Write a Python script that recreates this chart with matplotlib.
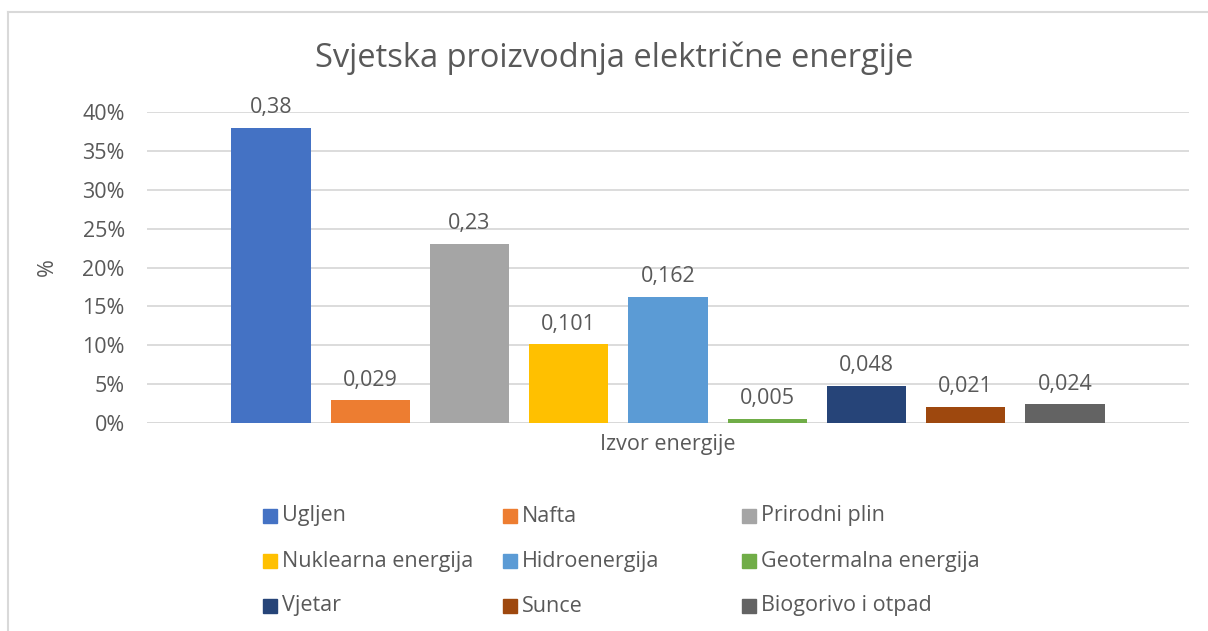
import matplotlib.pyplot as plt
from matplotlib.patches import Rectangle
from matplotlib.lines import Line2D
from matplotlib.ticker import FuncFormatter

plt.rcParams['font.family'] = ['Open Sans', 'DejaVu Sans']

izvori = ["Ugljen", "Nafta", "Prirodni plin", "Nuklearna energija", "Hidroenergija",
          "Geotermalna energija", "Vjetar", "Sunce", "Biogorivo i otpad"]
udjeli = [0.38, 0.029, 0.23, 0.101, 0.162, 0.005, 0.048, 0.021, 0.024]
oznake = ["0,38", "0,029", "0,23", "0,101", "0,162", "0,005", "0,048", "0,021", "0,024"]
boje = ["#4472C4", "#ED7D31", "#A5A5A5", "#FFC000", "#5B9BD5",
        "#70AD47", "#264478", "#9E480E", "#636363"]
y_ticks = [0, 0.05, 0.10, 0.15, 0.20, 0.25, 0.30, 0.35, 0.40]

txt = "#595959"
grid = "#D9D9D9"
fs = 15.5
W, H = 1208, 631

fig = plt.figure(figsize=(W / 100, H / 100), dpi=100)
ax = fig.add_axes([147 / W, 1 - 423 / H, (1189 - 147) / W, (423 - 112) / H])

x = list(range(len(izvori)))
bars = ax.bar(x, udjeli, width=0.8, color=boje, zorder=3)
for b, lab in zip(bars, oznake):
    ax.annotate(lab, (b.get_x() + b.get_width() / 2, b.get_height()),
                xytext=(0, 7), textcoords="offset points",
                ha="center", va="bottom", fontsize=fs, color=txt)

ax.set_xlim(-1.25, 9.25)
ax.set_ylim(0, 0.40)
ax.set_yticks(y_ticks)
ax.yaxis.set_major_formatter(FuncFormatter(lambda v, p: f"{v * 100:.0f}%"))
ax.set_xticks([])
ax.tick_params(axis="y", length=0, pad=16, labelsize=fs, labelcolor=txt)
ax.grid(axis="y", color=grid, linewidth=1.3, zorder=0)
for s in ax.spines.values():
    s.set_visible(False)
ax.axhline(0, color=grid, linewidth=1.3, zorder=2)

ax.set_ylabel("%", fontsize=fs, color=txt)
ax.yaxis.set_label_coords((58 - 147) / 1042, 0.5)
ax.set_xlabel("Izvor energije", fontsize=fs, color=txt, labelpad=8)
fig.text(614 / W, 1 - 58 / H, "Svjetska proizvodnja električne energije",
         ha="center", va="center", fontsize=23.5, color=txt)

# legenda, tri stupca po redovima
col_x = [263, 503, 742]
row_y = [516, 561, 606]
for i, (name, c) in enumerate(zip(izvori, boje)):
    cx = col_x[i % 3]
    cy = row_y[i // 3]
    fig.add_artist(Rectangle((cx / W, 1 - (cy + 7) / H), 14 / W, 14 / H,
                             transform=fig.transFigure, color=c))
    fig.text((cx + 19) / W, 1 - cy / H, name, ha="left", va="center",
             fontsize=fs, color=txt)

# okvir grafikona
fig.add_artist(Line2D([8 / W, 1], [1 - 12 / H, 1 - 12 / H], color=grid,
                      linewidth=1.5, transform=fig.transFigure))
fig.add_artist(Line2D([8 / W, 8 / W], [0, 1 - 12 / H], color=grid,
                      linewidth=1.5, transform=fig.transFigure))

fig.savefig("out.png", dpi=100)
